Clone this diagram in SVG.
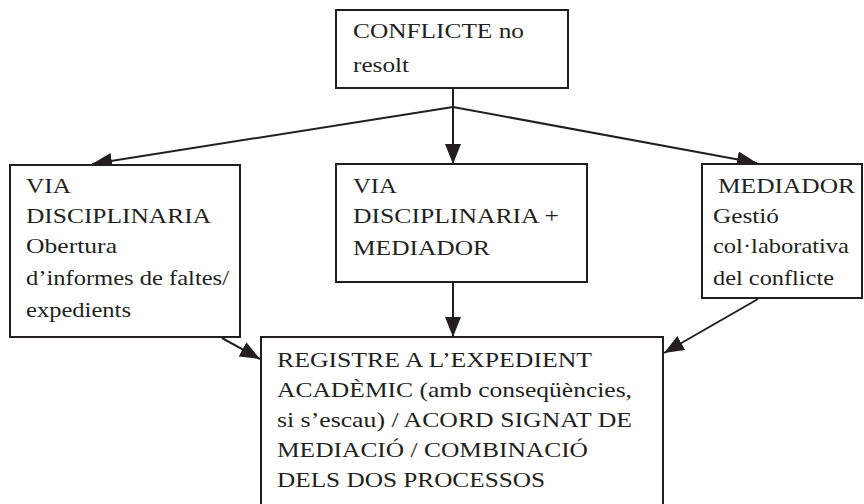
<svg xmlns="http://www.w3.org/2000/svg" width="864" height="504" viewBox="0 0 864 504">
<style>
.box{fill:#fff;stroke:#231f20;stroke-width:2}
.t{font-family:'Liberation Serif','Times New Roman',serif;font-size:22px;fill:#231f20}
.c{stroke:#231f20;stroke-width:2;fill:none}
</style>
<defs>
<marker id="ah" viewBox="0 0 20 16" refX="20" refY="8" markerWidth="20" markerHeight="16" markerUnits="userSpaceOnUse" orient="auto">
<path d="M0,0 L20,8 L0,16 Z" fill="#231f20"/>
</marker>
</defs>
<rect width="864" height="504" fill="#fff"/>
<g id="connectors">
<line class="c" x1="453" y1="88" x2="453" y2="107"/>
<line class="c" x1="453" y1="107" x2="453" y2="164" marker-end="url(#ah)"/>
<line class="c" x1="453" y1="107" x2="92" y2="164" marker-end="url(#ah)"/>
<line class="c" x1="453" y1="107" x2="757" y2="163" marker-end="url(#ah)"/>
<line class="c" x1="453" y1="282" x2="453" y2="337" marker-end="url(#ah)"/>
<line class="c" x1="222" y1="338" x2="260" y2="359" marker-end="url(#ah)"/>
<line class="c" x1="758" y1="299" x2="664" y2="353" marker-end="url(#ah)"/>
</g>
<g id="n_conflicte">
<rect class="box" x="336" y="10" width="232" height="78"/>
<text class="t" x="353" y="38" textLength="171" lengthAdjust="spacingAndGlyphs">CONFLICTE no</text>
<text class="t" x="353" y="72" textLength="56" lengthAdjust="spacingAndGlyphs">resolt</text>
</g>
<g id="n_disciplinaria">
<rect class="box" x="10" y="165" width="230" height="172"/>
<text class="t" x="26" y="193" textLength="45" lengthAdjust="spacingAndGlyphs">VIA</text>
<text class="t" x="26" y="223" textLength="185" lengthAdjust="spacingAndGlyphs">DISCIPLINARIA</text>
<text class="t" x="26" y="253" textLength="91" lengthAdjust="spacingAndGlyphs">Obertura</text>
<text class="t" x="26" y="285" textLength="203" lengthAdjust="spacingAndGlyphs">d’informes de faltes/</text>
<text class="t" x="26" y="317" textLength="105" lengthAdjust="spacingAndGlyphs">expedients</text>
</g>
<g id="n_disc_mediador">
<rect class="box" x="336" y="164" width="251" height="118"/>
<text class="t" x="353" y="193" textLength="44" lengthAdjust="spacingAndGlyphs">VIA</text>
<text class="t" x="353" y="223" textLength="206" lengthAdjust="spacingAndGlyphs">DISCIPLINARIA +</text>
<text class="t" x="353" y="255" textLength="137" lengthAdjust="spacingAndGlyphs">MEDIADOR</text>
</g>
<g id="n_mediador">
<rect class="box" x="702" y="164" width="160" height="134"/>
<text class="t" x="718" y="193" textLength="137" lengthAdjust="spacingAndGlyphs">MEDIADOR</text>
<text class="t" x="713" y="223" textLength="66" lengthAdjust="spacingAndGlyphs">Gestió</text>
<text class="t" x="713" y="253" textLength="136" lengthAdjust="spacingAndGlyphs">col·laborativa</text>
<text class="t" x="713" y="285" textLength="121" lengthAdjust="spacingAndGlyphs">del conflicte</text>
</g>
<g id="n_registre">
<rect class="box" x="261" y="337" width="402" height="180"/>
<text class="t" x="277" y="367" textLength="315" lengthAdjust="spacingAndGlyphs">REGISTRE A L’EXPEDIENT</text>
<text class="t" x="277" y="397" textLength="355" lengthAdjust="spacingAndGlyphs">ACADÈMIC (amb conseqüències,</text>
<text class="t" x="277" y="427" textLength="355" lengthAdjust="spacingAndGlyphs">si s’escau) / ACORD SIGNAT DE</text>
<text class="t" x="277" y="457" textLength="311" lengthAdjust="spacingAndGlyphs">MEDIACIÓ / COMBINACIÓ</text>
<text class="t" x="277" y="487" textLength="268" lengthAdjust="spacingAndGlyphs">DELS DOS PROCESSOS</text>
</g>
</svg>
